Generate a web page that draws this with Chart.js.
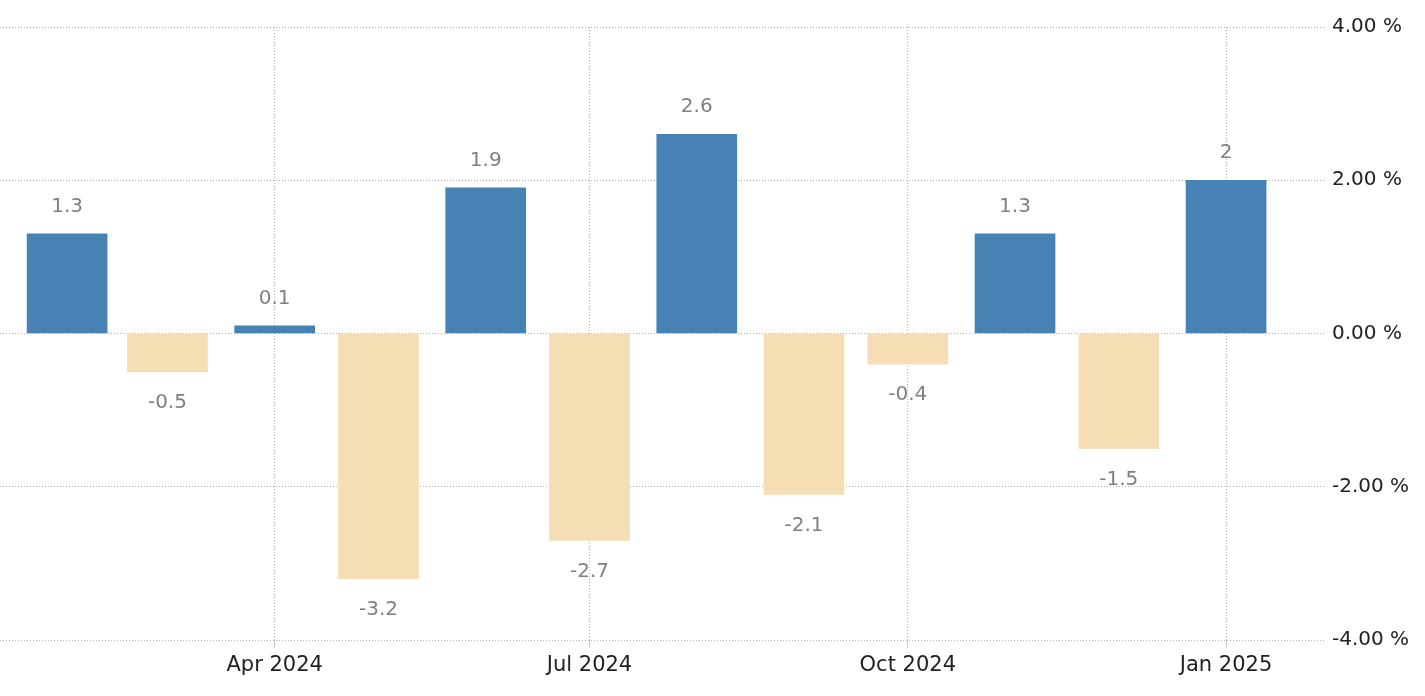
<!DOCTYPE html>
<html>
<head>
<meta charset="utf-8">
<script src="https://cdn.jsdelivr.net/npm/chart.js@4.4.1/dist/chart.umd.min.js"></script>
<style>
  html, body { margin: 0; padding: 0; background: #fff; }
  #wrap { width: 1425px; height: 696px; position: relative; }
</style>
</head>
<body>
<div id="wrap"><canvas id="c"></canvas></div>
<script>
// monthly change, Feb 2024 .. Jan 2025
const months = ["2024-02-01", "2024-03-01", "2024-04-01", "2024-05-01", "2024-06-01", "2024-07-01",
                "2024-08-01", "2024-09-01", "2024-10-01", "2024-11-01", "2024-12-01", "2025-01-01"];
const values = [1.3, -0.5, 0.1, -3.2, 1.9, -2.7, 2.6, -2.1, -0.4, 1.3, -1.5, 2];
const tickMonths = ["2024-04-01", "2024-07-01", "2024-10-01", "2025-01-01"];
const tickLabels = ["Apr 2024", "Jul 2024", "Oct 2024", "Jan 2025"];
const yTicks = [-4, -2, 0, 2, 4];

const DAY = 86400000;
const t0 = Date.parse(months[0]);
const dayOf = s => (Date.parse(s) - t0) / DAY;

const BLUE = "#4682b4";
const WHEAT = "#f5deb3";
const GRID = "#b4b4b4";
const FONT = '"DejaVu Sans", Arial, sans-serif';

const points = months.map((m, i) => ({ x: dayOf(m), y: values[i] }));

// value labels above positive / below negative bars
const barLabels = {
  id: "barLabels",
  afterDatasetsDraw(chart) {
    const ctx = chart.ctx;
    const meta = chart.getDatasetMeta(0);
    ctx.save();
    ctx.font = "20px " + FONT;
    ctx.fillStyle = "#808080";
    ctx.textAlign = "center";
    ctx.textBaseline = "middle";
    meta.data.forEach((bar, i) => {
      const v = values[i];
      const y = v >= 0 ? bar.y - 27 : bar.y + 31;
      ctx.fillText(String(v), bar.x, y);
    });
    ctx.restore();
  }
};

new Chart(document.getElementById("c"), {
  type: "bar",
  data: {
    datasets: [{
      data: points,
      backgroundColor: values.map(v => v >= 0 ? BLUE : WHEAT),
      barThickness: 80,
      borderWidth: 0
    }]
  },
  options: {
    responsive: true,
    maintainAspectRatio: false,
    animation: false,
    layout: { padding: { top: 27, left: 0, right: 0, bottom: 0 } },
    plugins: { legend: { display: false }, tooltip: { enabled: false } },
    scales: {
      x: {
        type: "linear",
        offset: false,
        min: -19.4,
        max: 363.6,
        afterBuildTicks: s => { s.ticks = tickMonths.map(m => ({ value: dayOf(m) })); },
        afterFit: s => { s.height = 56; },
        grid: { color: GRID, offset: false, tickLength: 8, tickColor: "#cccccc", tickBorderDash: [] },
        border: { display: false, dash: [1, 2] },
        ticks: {
          padding: 5,
          color: "#222",
          font: { family: FONT, size: 21 },
          maxRotation: 0,
          autoSkip: false,
          callback: v => tickLabels[tickMonths.findIndex(m => dayOf(m) === v)] || ""
        }
      },
      y: {
        position: "right",
        min: -4,
        max: 4,
        afterBuildTicks: s => { s.ticks = yTicks.map(v => ({ value: v })); },
        afterFit: s => { s.width = 100; },
        grid: { color: GRID, drawTicks: false },
        border: { display: false, dash: [1, 2] },
        ticks: {
          padding: 7,
          crossAlign: "near",
          color: "#222",
          font: { family: FONT, size: 20 },
          callback: v => v.toFixed(2) + " %"
        }
      }
    }
  },
  plugins: [barLabels]
});
</script>
</body>
</html>
